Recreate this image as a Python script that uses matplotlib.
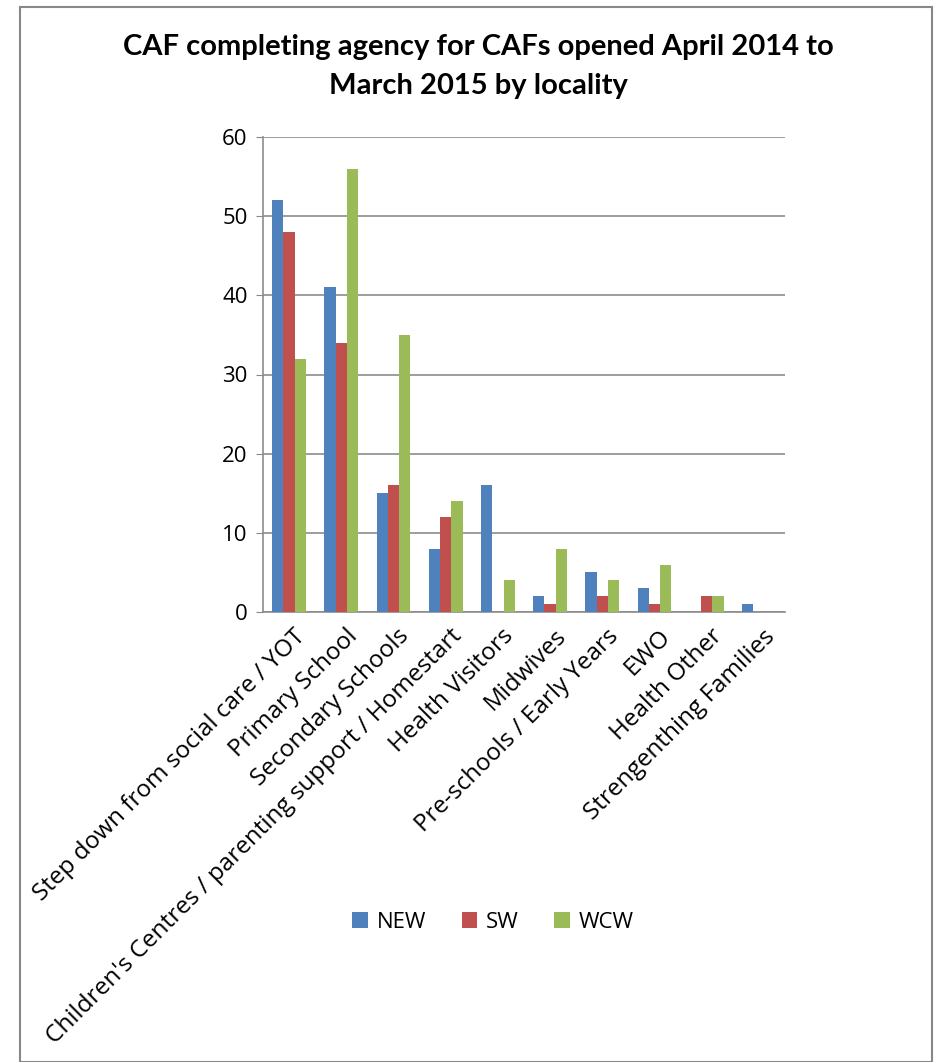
import matplotlib
matplotlib.use("Agg")
import matplotlib.pyplot as plt
import matplotlib.transforms as mtransforms
import numpy as np
from matplotlib.patches import Rectangle

categories = ["Step down from social care / YOT", "Primary School", "Secondary Schools",
              "Children's Centres / parenting support / Homestart", "Health Visitors",
              "Midwives", "Pre-schools / Early Years", "EWO", "Health Other",
              "Strengenthing Families"]
series_names = ["NEW", "SW", "WCW"]
new_vals = [52, 41, 15, 8, 16, 2, 5, 3, 0, 1]
sw_vals = [48, 34, 16, 12, 0, 1, 2, 1, 2, 0]
wcw_vals = [32, 56, 35, 14, 4, 8, 4, 6, 2, 0]
colors = ["#4F81BD", "#C0504D", "#9BBB59"]
y_ticks = [0, 10, 20, 30, 40, 50, 60]

plt.rcParams['font.family'] = ['Open Sans', 'DejaVu Sans']

fig = plt.figure(figsize=(9.39, 10.62), dpi=100)
ax = fig.add_axes([263/939, 1-612/1062, (785-263)/939, (612-137)/1062])

x = np.arange(len(categories))
w = 0.215
for i, (vals, c, name) in enumerate(zip([new_vals, sw_vals, wcw_vals], colors, series_names)):
    ax.bar(x + (i-1)*w, vals, width=w, color=c, label=name, zorder=3)

ax.set_xlim(-0.5, len(categories)-0.5)
ax.set_ylim(0, 60)
ax.set_yticks(y_ticks)
ax.tick_params(axis='y', labelsize=16, length=5, color='#888888', pad=6)
ax.set_xticks(x)
ax.set_xticklabels(categories, rotation=45, ha='right', rotation_mode='anchor', fontsize=17.5)
ax.tick_params(axis='x', length=0, pad=9)
offset = mtransforms.ScaledTranslation(4/100, 0, fig.dpi_scale_trans)
for lbl in ax.get_xticklabels():
    lbl.set_transform(lbl.get_transform() + offset)
ax.grid(axis='y', color='#8c8c8c', linewidth=1.2, zorder=0)
for s in ['top', 'right']:
    ax.spines[s].set_visible(False)
for s in ['left', 'bottom']:
    ax.spines[s].set_color('#8c8c8c')
    ax.spines[s].set_linewidth(1.2)

fig.text(478/939, 1-47/1062, "CAF completing agency for CAFs opened April 2014 to",
         ha='center', va='center', fontsize=21, fontweight='bold', family=['Lato', 'DejaVu Sans'])
fig.text(478/939, 1-86/1062, "March 2015 by locality",
         ha='center', va='center', fontsize=21, fontweight='bold', family=['Lato', 'DejaVu Sans'])

fig.legend(loc='center', bbox_to_anchor=(493/939, 1-922/1062), ncol=3, frameon=False,
           fontsize=16, handlelength=0.7, handleheight=0.7, columnspacing=1.6, handletextpad=0.4)

fig.patches.append(Rectangle((20/939, 0), (932-20)/939, 1-7/1062, transform=fig.transFigure,
                             fill=False, edgecolor='#888888', linewidth=1.5))

fig.savefig("out.png", dpi=100)
